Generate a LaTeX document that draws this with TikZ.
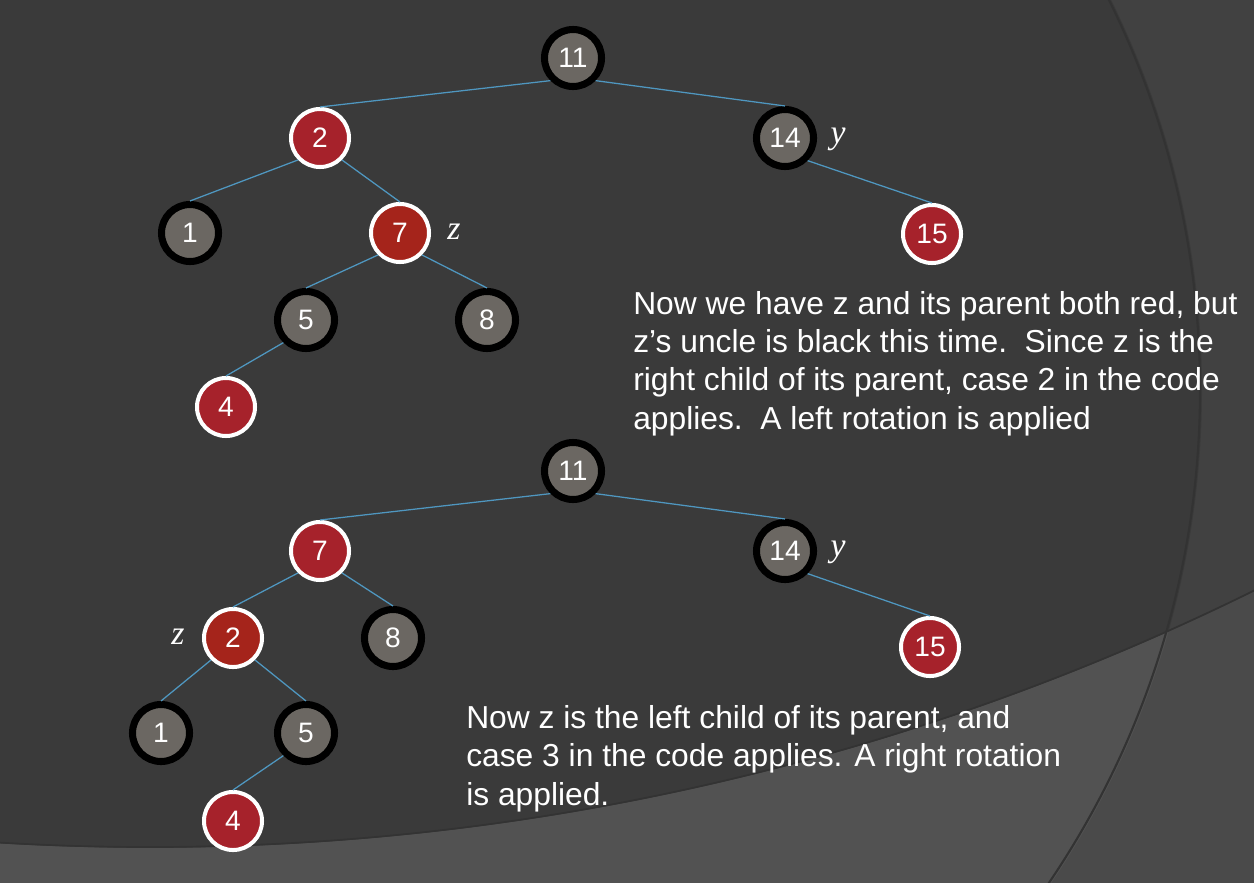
\documentclass[tikz,border=0pt]{standalone}
\usepackage{fontspec}
\setmainfont{Liberation Sans}
\newfontfamily\varfont{Liberation Serif}
\definecolor{bgdark}{HTML}{3A3A3A}
\definecolor{bgside}{HTML}{414141}
\definecolor{bglow}{HTML}{525252}
\definecolor{bglowside}{HTML}{4A4A4A}
\definecolor{arcshade}{HTML}{333333}
\definecolor{nodegray}{HTML}{6B6762}
\definecolor{nodered}{HTML}{A6222B}
\definecolor{nodezred}{HTML}{A5241B}
\definecolor{edgeblue}{HTML}{4F97C0}

\begin{document}
\begin{tikzpicture}[x=0.025cm, y=-0.025cm,
        blacknode/.style={circle, draw=black, fill=nodegray, line width=5pt, minimum size=1.425cm, inner sep=0pt, text=white, font=\fontsize{20}{24}\selectfont},
        rednode/.style={circle, draw=white, fill=nodered, line width=2.85pt, minimum size=1.45cm, inner sep=0pt, text=white, font=\fontsize{20}{24}\selectfont},
        zred/.style={rednode, fill=nodezred},
        edge/.style={draw=edgeblue, line width=0.9pt},
        varlabel/.style={anchor=base, inner sep=0pt, text=white, font=\varfont\itshape\fontsize{24}{24}\selectfont},
        note/.style={anchor=base west, align=left, inner sep=0pt, text=white, font=\fontsize{22.6}{27.2}\selectfont}]
        \useasboundingbox (0,0) rectangle (1254,882);
        \begin{scope}
        \clip (0,0) rectangle (1254,882);
        \fill[bgside] (0,0) rectangle (1254,882);
        \fill[bgdark] (321,390) circle[radius=881];
        \fill[bglowside, even odd rule] (-3000,-5000) rectangle (3000,3000) (150,-1652) circle[radius=2500];
        \begin{scope}
        \clip (321,390) circle[radius=881];
        \fill[bglow, even odd rule] (-3000,-5000) rectangle (3000,3000) (150,-1652) circle[radius=2500];
        \end{scope}
        \draw[arcshade, line width=1.5pt] (321,390) circle[radius=879];
        \draw[arcshade, line width=1.2pt] (150,-1652) circle[radius=2499];
        \end{scope}

        \node[blacknode] (a11) at (573,58) {11};
        \node[rednode] (a2) at (320,138) {2};
        \node[blacknode] (a14) at (785,138) {14};
        \node[blacknode] (a1) at (190,233) {1};
        \node[zred] (a7) at (400,233) {7};
        \node[rednode] (a15) at (932,234) {15};
        \node[blacknode] (a5) at (306,320) {5};
        \node[blacknode] (a8) at (487,320) {8};
        \node[rednode] (a4) at (226,407) {4};
        \node[varlabel] (az) at (454,239) {z};
        \node[varlabel] (ay) at (838,143) {y};
        \draw[edge] (a11.south west) -- (a2.north);
        \draw[edge] (a11.south east) -- (a14.north);
        \draw[edge] (a2.south west) -- (a1.north);
        \draw[edge] (a2.south east) -- (a7.north);
        \draw[edge] (a14.south east) -- (a15.north);
        \draw[edge] (a7.south west) -- (a5.north);
        \draw[edge] (a7.south east) -- (a8.north);
        \draw[edge] (a5.south west) -- (a4.north);
        \node[note] (case2) at (633,429) {Now we have z and its parent both red, but\\z’s uncle is black this time.\ \ Since z is the\\right child of its parent, case 2 in the code\\applies.\ \ A left rotation is applied};

        \node[blacknode] (b11) at (573,471) {11};
        \node[rednode] (b7) at (320,551) {7};
        \node[blacknode] (b14) at (785,551) {14};
        \node[zred] (b2) at (233,638) {2};
        \node[blacknode] (b8) at (393,638) {8};
        \node[rednode] (b15) at (930,647) {15};
        \node[blacknode] (b1) at (161,733) {1};
        \node[blacknode] (b5) at (306,733) {5};
        \node[rednode] (b4) at (233,821) {4};
        \node[varlabel] (bz) at (178,644) {z};
        \node[varlabel] (by) at (838,556) {y};
        \draw[edge] (b11.south west) -- (b7.north);
        \draw[edge] (b11.south east) -- (b14.north);
        \draw[edge] (b7.south west) -- (b2.north);
        \draw[edge] (b7.south east) -- (b8.north);
        \draw[edge] (b14.south east) -- (b15.north);
        \draw[edge] (b2.south west) -- (b1.north);
        \draw[edge] (b2.south east) -- (b5.north);
        \draw[edge] (b5.south west) -- (b4.north);
        \node[note] (case3) at (466,805) {Now z is the left child of its parent, and\\case 3 in the code applies. A right rotation\\is applied.};
\end{tikzpicture}
\end{document}
